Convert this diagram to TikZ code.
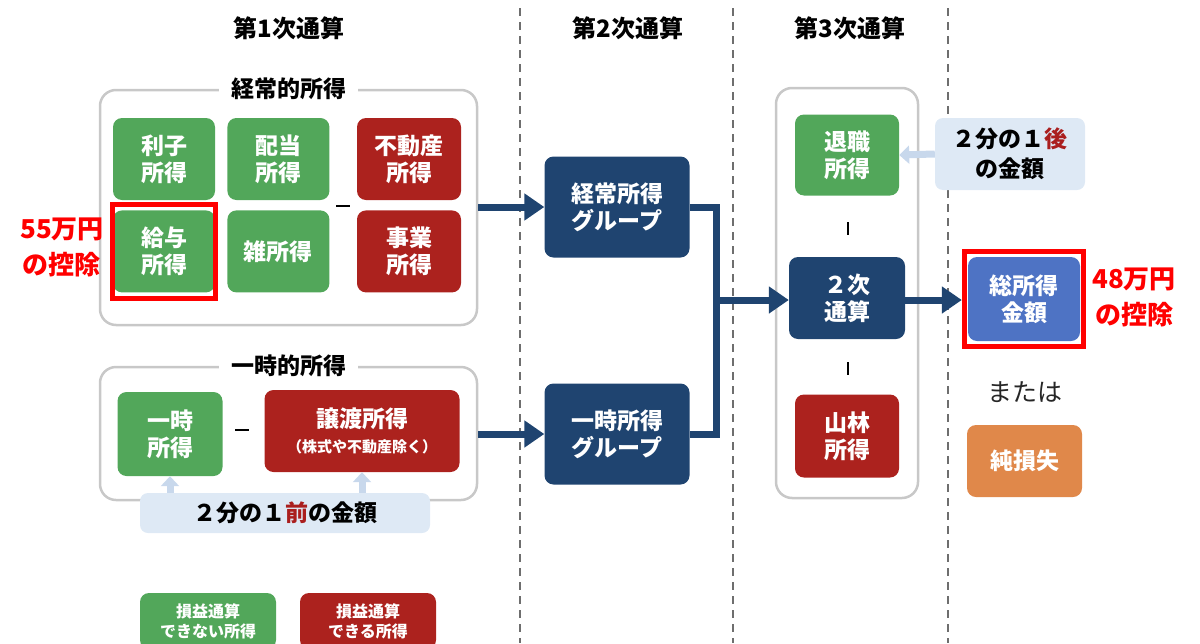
\documentclass[tikz,border=0pt]{standalone}
\usepackage{fontspec}
\setmainfont{Noto Sans CJK JP}
\usepackage{tikz}
\usetikzlibrary{positioning,arrows.meta,fit}
\definecolor{grnclr}{RGB}{82,167,90}
\definecolor{redclr}{RGB}{172,34,30}
\definecolor{navyclr}{RGB}{31,68,112}
\definecolor{bluclr}{RGB}{78,115,196}
\definecolor{orgclr}{RGB}{224,136,74}
\definecolor{noteclr}{RGB}{222,233,245}
\definecolor{lbarrclr}{RGB}{200,216,236}
\definecolor{grpclr}{RGB}{200,200,200}
\definecolor{sepclr}{RGB}{110,110,110}
\definecolor{dkredclr}{RGB}{170,30,30}
\tikzset{ %
  ,>={Triangle[width=26pt,length=20pt]}
  ,every node/.style={font=\bfseries}
  ,box/.style={rounded corners=9pt, inner sep=0, align=center, text=white, font=\bfseries\fontsize{23}{27}\selectfont, minimum width=102pt, minimum height=82pt}
  ,gbox/.style={box, fill=grnclr}
  ,rbox/.style={box, fill=redclr}
  ,nbox/.style={box, fill=navyclr}
  ,grp/.style={draw=grpclr, line width=2.5pt, rounded corners=16pt, inner sep=0}
  ,grplbl/.style={fill=white, inner xsep=12pt, inner ysep=2pt, font=\bfseries\fontsize{23}{27}\selectfont}
  ,head/.style={font=\bfseries\fontsize{24}{28}\selectfont}
  ,note/.style={fill=noteclr, rounded corners=8pt, align=center, inner sep=0, font=\bfseries\fontsize{23}{30}\selectfont}
  ,hilite/.style={draw=red, line width=5pt, inner sep=0}
  ,kojo/.style={text=red, align=center, font=\bfseries\fontsize{26}{36}\selectfont}
  ,legend/.style={box, minimum width=136pt, minimum height=56pt, font=\bfseries\fontsize{16}{20}\selectfont}
  ,bigarr/.style={->, draw=navyclr, line width=7pt}
  ,lbarr/.style={-{Triangle[width=18pt,length=10pt]}, draw=lbarrclr, line width=7pt}
  ,sep/.style={draw=sepclr, line width=1.2pt, dash pattern=on 8pt off 6pt}
}
\begin{document}
\begin{tikzpicture}[x=1pt,y=-1pt]
    \useasboundingbox (0,0) rectangle (1200,643);
    % column separators
    \draw[sep] (520,8) -- (520,643);
    \draw[sep] (733,8) -- (733,643);
    \draw[sep] (948,8) -- (948,643);
    \node[head] (h1) at (289,28) {第1次通算};
    \node[head] (h2) at (628,28) {第2次通算};
    \node[head] (h3) at (850,28) {第3次通算};

    % first step
    \node[grp, minimum width=377pt, minimum height=235pt] (keijo) at (288.5,207.5) {};
    \node[grplbl] at (keijo.north) {経常的所得};
    \node[gbox] (rishi) at (164,159) {利子\\所得};
    \node[gbox, right=12pt of rishi] (haito) {配当\\所得};
    \node[gbox, below=10pt of rishi] (kyuyo) {給与\\所得};
    \node[gbox, below=10pt of haito] (zatsu) {雑所得};
    \node[rbox, minimum width=104pt] (fudosan) at (409,159) {不動産\\所得};
    \node[rbox, minimum width=104pt, below=10pt of fudosan] (jigyo) {事業\\所得};
    \node (m1) at (343,206) {\rule{14pt}{1.6pt}};
    \node[hilite, fit=(kyuyo), inner xsep=0pt, inner ysep=5.5pt] (kyuyoH) {};
    \node[kojo] (kojo1) at (62,247) {55万円\\の控除};

    \node[grp, minimum width=377pt, minimum height=133pt] (ichijiteki) at (288.5,433.5) {};
    \node[grplbl] at (ichijiteki.north) {一時的所得};
    \node[gbox, minimum width=105pt, minimum height=84pt] (ichiji) at (170,434) {一時\\所得};
    \node[rbox, minimum width=195pt] (joto) at (362,431) {譲渡所得\\[-2pt]{\fontsize{15}{18}\selectfont （株式や不動産除く）}};
    \node (m2) at (242,430) {\rule{14pt}{1.6pt}};
    \node[note, minimum width=290pt, minimum height=40pt] (mae) at (285,513) {２分の１{\color{dkredclr}前}の金額};
    \draw[lbarr] (mae.north -| ichiji.south) -- (ichiji.south);
    \draw[lbarr] (mae.north -| joto.south) -- (joto.south);

    % second step
    \node[nbox, minimum width=145pt, minimum height=101pt] (keijoG) at (617,207) {経常所得\\グループ};
    \node[nbox, minimum width=145pt, minimum height=101pt] (ichijiG) at (617,434) {一時所得\\グループ};
    \draw[bigarr] (keijo.east |- keijoG.west) -- (keijoG.west);
    \draw[bigarr] (ichijiteki.east |- ichijiG.west) -- (ichijiG.west);
    \coordinate (jn) at (716,300);
    \draw[navyclr, line width=7pt] (keijoG.east) -| (jn) |- (ichijiG.east);

    % third step
    \node[grp, minimum width=142pt, minimum height=410pt] (dai3) at (847,293) {};
    \node[gbox, minimum width=104pt, minimum height=81pt] (taishoku) at (847,155) {退職\\所得};
    \node[nbox, minimum width=116pt] (niji) at (847,298) {２次\\通算};
    \node[rbox, minimum width=104pt, minimum height=83pt] (sanrin) at (847,436) {山林\\所得};
    \node (b1) at (848,228) {\rule{1.6pt}{13pt}};
    \node (b2) at (848,368) {\rule{1.6pt}{13pt}};
    \draw[bigarr] (jn) -- (jn -| niji.west);

    % result
    \node[note, minimum width=150pt, minimum height=72pt] (ato) at (1010,154) {２分の１{\color{dkredclr}後}\\の金額};
    \draw[lbarr] (ato.west) -- (taishoku.east);
    \node[box, fill=bluclr, minimum width=112pt, minimum height=84pt] (soshotoku) at (1024,299) {総所得\\金額};
    \node[hilite, fit=(soshotoku), inner xsep=3.5pt, inner ysep=5pt] (soshotokuH) {};
    \draw[bigarr] (niji.east |- jn) -- (soshotokuH.west |- jn);
    \node[kojo] (kojo2) at (1134,297) {48万円\\の控除};
    \node[font=\fontsize{25}{29}\selectfont, text=black!85] (mataha) at (1025,392) {または};
    \node[box, fill=orgclr, minimum width=115pt, minimum height=72pt] (junson) at (1024.5,461) {純損失};

    % legend
    \node[legend, fill=grnclr] (lgG) at (208,621) {損益通算\\できない所得};
    \node[legend, fill=redclr] (lgR) at (368,621) {損益通算\\できる所得};
\end{tikzpicture}
\end{document}
